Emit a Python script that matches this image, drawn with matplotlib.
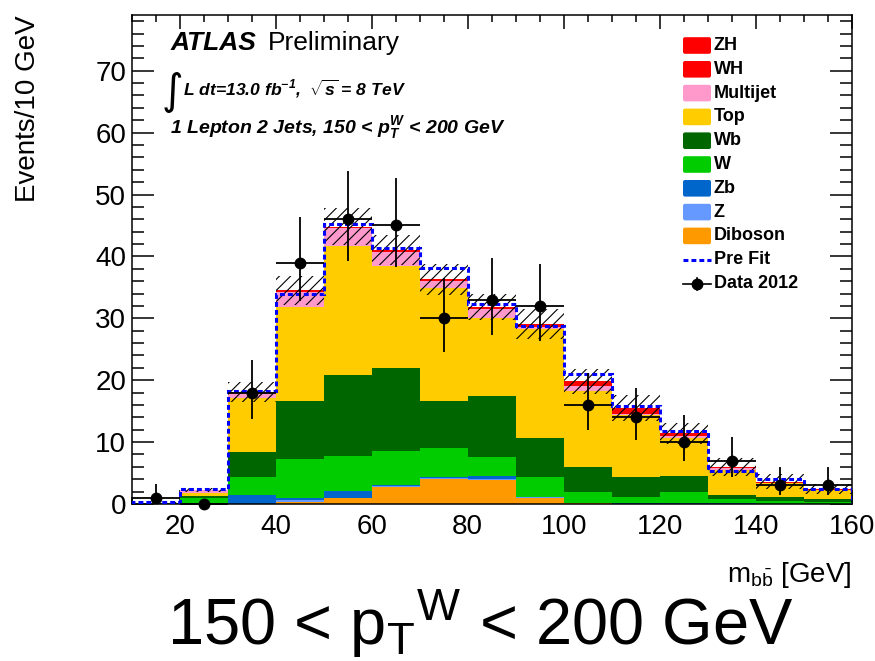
import matplotlib
matplotlib.use('Agg')
import matplotlib.pyplot as plt
from matplotlib.patches import FancyBboxPatch
from matplotlib.lines import Line2D
import numpy as np

plt.rcParams['font.family'] = ['Liberation Sans', 'DejaVu Sans']
plt.rcParams['mathtext.fontset'] = 'custom'
plt.rcParams['mathtext.rm'] = 'Liberation Sans'
plt.rcParams['mathtext.it'] = 'Liberation Sans:italic'
plt.rcParams['mathtext.bf'] = 'Liberation Sans:bold:italic'
plt.rcParams['hatch.linewidth'] = 0.8

# ── DATA ─────────────────────────────────────────────
bin_edges = [10, 20, 30, 40, 50, 60, 70, 80, 90, 100, 110, 120, 130, 140, 150, 160]

diboson  = [0.0, 0.0, 0.0, 0.4, 0.9, 2.8, 4.1, 3.8, 1.0, 0.1, 0.05, 0.05, 0.0, 0.0, 0.0]
z_jets   = [0.0, 0.0, 0.05, 0.3, 0.1, 0.1, 0.15, 0.3, 0.1, 0.0, 0.0, 0.0, 0.05, 0.0, 0.0]
zb_jets  = [0.0, 0.1, 1.4, 0.3, 1.1, 0.2, 0.15, 0.4, 0.1, 0.05, 0.05, 0.05, 0.15, 0.05, 0.0]
w_jets   = [0.05, 0.8, 2.9, 6.2, 5.6, 5.5, 4.6, 3.1, 3.1, 1.85, 1.1, 1.9, 0.6, 0.45, 0.4]
wb_jets  = [0.05, 0.4, 4.0, 9.5, 13.2, 13.3, 7.7, 9.8, 6.4, 3.9, 3.2, 2.6, 0.66, 0.58, 0.4]
top      = [0.05, 0.45, 8.8, 15.2, 20.8, 16.5, 18.2, 12.6, 17.5, 12.4, 9.9, 6.1, 4.04, 2.27, 1.4]
multijet = [0.05, 0.5, 0.8, 2.4, 2.9, 2.3, 1.2, 1.5, 0.4, 0.7, 0.2, 0.3, 0.25, 0.1, 0.08]
wh       = [0.0, 0.03, 0.15, 0.1, 0.1, 0.15, 0.1, 0.2, 0.25, 0.4, 0.5, 0.2, 0.15, 0.07, 0.06]
zh       = [0.0, 0.02, 0.05, 0.1, 0.1, 0.15, 0.1, 0.2, 0.25, 0.4, 0.5, 0.2, 0.1, 0.08, 0.06]

bkg_unc  = [0.1, 0.3, 1.6, 2.3, 3.0, 2.4, 2.5, 2.1, 2.4, 2.0, 2.1, 1.7, 1.4, 1.2, 0.8]
prefit   = [0.25, 2.4, 18.2, 34.0, 45.3, 41.3, 38.2, 32.3, 28.8, 21.0, 15.8, 11.8, 5.3, 4.0, 2.5]

data_2012 = [1, 0, 18, 39, 46, 45, 30, 33, 32, 16, 14, 10, 7, 3, 3]
data_err_lo = [0.83, 0, 4.2, 6.2, 6.8, 6.7, 5.4, 5.7, 5.6, 4.0, 3.7, 3.1, 2.6, 1.6, 1.6]
data_err_hi = [2.30, 0, 5.3, 7.3, 7.8, 7.7, 6.5, 6.8, 6.7, 5.1, 4.8, 4.3, 3.8, 2.9, 2.9]

# stack order bottom -> top
stack = [
    ("Diboson",  diboson,  "#FF9900"),
    ("Z",        z_jets,   "#6699FF"),
    ("Zb",       zb_jets,  "#0066CC"),
    ("W",        w_jets,   "#00CC00"),
    ("Wb",       wb_jets,  "#006600"),
    ("Top",      top,      "#FFCC00"),
    ("Multijet", multijet, "#FF99CC"),
    ("WH",       wh,       "#FF0000"),
    ("ZH",       zh,       "#FF0000"),
]

W, H, DPI = 875, 661, 100
fig = plt.figure(figsize=(W / DPI, H / DPI), dpi=DPI, facecolor='white')
ax = fig.add_axes([131.7 / W, 1 - 504 / H, 720 / W, 489 / H])

edges = np.array(bin_edges, dtype=float)
centers = 0.5 * (edges[:-1] + edges[1:])
halfw = 0.5 * np.diff(edges)

# ── STACK ────────────────────────────────────────────
base = np.zeros(len(centers))
for name, vals, col in stack:
    vals = np.array(vals)
    ax.stairs(base + vals, edges, baseline=base, fill=True,
              facecolor=col, edgecolor='none', linewidth=0, zorder=2)
    base = base + vals
total = base

# uncertainty band
unc = np.array(bkg_unc)
ax.bar(edges[:-1], 2 * unc, bottom=total - unc, width=np.diff(edges), align='edge',
       fill=False, hatch='///', edgecolor='black', linewidth=0, zorder=3)

# pre fit
ax.stairs(prefit, edges, color='#0000FF', linewidth=2.2,
          linestyle=(0, (1.6, 1.0)), zorder=4)

# data
ax.errorbar(centers, data_2012, xerr=halfw, yerr=[data_err_lo, data_err_hi],
            fmt='o', color='black', ms=7.5, elinewidth=1.3, capsize=0,
            zorder=6, clip_on=False)

# ── AXES ─────────────────────────────────────────────
ax.set_xlim(10, 160)
ax.set_ylim(0, 79)
ax.set_xticks([20, 40, 60, 80, 100, 120, 140, 160])
ax.set_xticks(np.arange(10, 161, 5), minor=True)
ax.set_yticks([0, 10, 20, 30, 40, 50, 60, 70])
ax.set_yticks(np.arange(0, 79, 2), minor=True)
ax.tick_params(which='both', direction='in', top=True, right=True, width=1.1,
               labelsize=20)
ax.tick_params(axis='x', which='major', length=10, pad=7)
ax.tick_params(axis='x', which='minor', length=5)
ax.tick_params(axis='y', which='major', length=15.5, pad=4)
ax.tick_params(axis='y', which='minor', length=8.5)
for s in ax.spines.values():
    s.set_linewidth(1.1)

# ── TEXT / LEGEND OVERLAY (pixel coordinates) ─────────
ov = fig.add_axes([0, 0, 1, 1], zorder=10)
ov.set_xlim(0, W)
ov.set_ylim(H, 0)
ov.axis('off')
ov.patch.set_alpha(0)

ov.text(28, 15, "Events/10 GeV", rotation=90, ha='center', va='top', fontsize=20)
ov.text(851, 582, r"m$_{\mathrm{b\bar{b}}}$ [GeV]", ha='right', va='baseline', fontsize=20)

ov.text(171, 50, "ATLAS", fontsize=19, fontweight='bold', style='italic', va='baseline')
ov.text(268, 50, "Preliminary", fontsize=19, va='baseline')
ov.text(162, 92, "\u222b", fontsize=30, family='DejaVu Sans', va='center', ha='left')
ov.text(183, 95, r"L dt=13.0 fb$^{\mathbf{-1}}$,  $\sqrt{\mathbf{s}}$ = 8 TeV",
        fontsize=12.6, fontweight='bold', style='italic', va='baseline')
ov.text(170, 133, r"1 Lepton 2 Jets, 150 < p$_{\mathbf{T}}^{\mathbf{W}}$ < 200 GeV",
        fontsize=14, fontweight='bold', style='italic', va='baseline')

ov.text(167, 645, r"150 < p$_{\mathrm{T}}$$^{\mathrm{W}}$ < 200 GeV",
        fontsize=46.8, va='baseline', ha='left')

# legend
LEG_X0, LEG_X1 = 683, 711
LEG_Y0, LEG_DY = 45.5, 23.8
for i, (name, vals, col) in enumerate(reversed(stack)):
    yc = LEG_Y0 + i * LEG_DY
    ov.add_patch(FancyBboxPatch((LEG_X0, yc - 8.3), LEG_X1 - LEG_X0, 16.6,
                                boxstyle="round,pad=0,rounding_size=2",
                                facecolor=col, edgecolor='none'))
    ov.text(LEG_X1 + 3, yc, name, fontsize=13, fontweight='bold', va='center', ha='left')

yc = LEG_Y0 + 9 * LEG_DY
ov.add_line(Line2D([LEG_X0, LEG_X1], [yc, yc], color='#0000FF', lw=2.2,
                   linestyle=(0, (1.6, 1.0))))
ov.text(LEG_X1 + 3, yc, "Pre Fit", fontsize=13, fontweight='bold', va='center', ha='left')

yc = LEG_Y0 + 10 * LEG_DY
ov.add_line(Line2D([LEG_X0, LEG_X1], [yc, yc], color='black', lw=1.2))
ov.add_line(Line2D([697, 697], [yc - 6, yc + 6], color='black', lw=1.2))
ov.plot([697], [yc], 'o', color='black', ms=7.5)
ov.text(LEG_X1 + 3, yc, "Data 2012", fontsize=13, fontweight='bold', va='center', ha='left')

plt.savefig("out.png", dpi=DPI, facecolor='white')
plt.close()
